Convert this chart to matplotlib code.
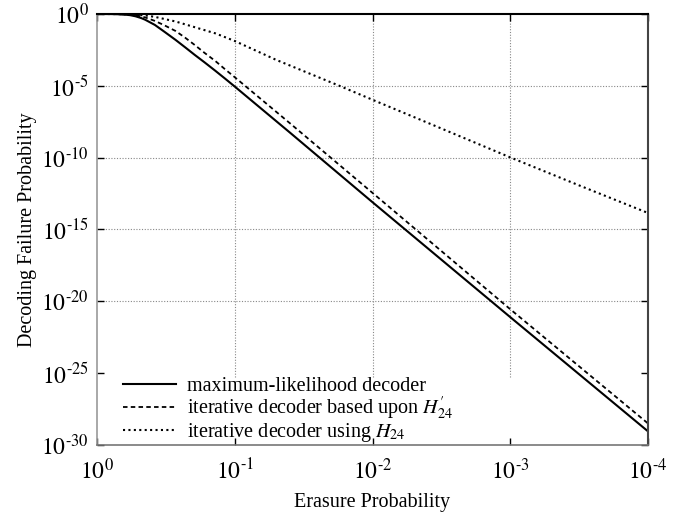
import matplotlib
matplotlib.use('Agg')
import matplotlib.pyplot as plt
import numpy as np

plt.rcParams['font.family'] = ['Liberation Serif', 'DejaVu Serif']
plt.rcParams['mathtext.fontset'] = 'stix'

# valeurs (exposants base 10)
ml_lx = [0, -0.1, -0.15, -0.2, -0.24, -0.28, -0.32, -0.35, -0.42, -0.49, -0.57, -0.64, -0.71, -0.78, -0.86, -0.93, -1.0, -1.4, -2.0, -3.0, -4.0]
ml_ly = [0, -0.003, -0.015, -0.04, -0.08, -0.16, -0.28, -0.4, -0.76, -1.24, -1.8, -2.32, -2.85, -3.36, -3.96, -4.5, -5.05, -8.25, -13.1, -21.1, -29.05]

it2_lx = [0, -0.1, -0.15, -0.2, -0.24, -0.28, -0.32, -0.35, -0.42, -0.49, -0.57, -0.64, -0.71, -0.78, -0.86, -0.93, -1.0, -1.4, -2.0, -3.0, -4.0]
it2_ly = [0, -0.002, -0.01, -0.03, -0.05, -0.09, -0.16, -0.24, -0.48, -0.79, -1.18, -1.65, -2.16, -2.7, -3.28, -3.85, -4.4, -7.6, -12.45, -20.55, -28.5]

it1_lx = [0, -0.1, -0.15, -0.2, -0.28, -0.35, -0.42, -0.57, -0.71, -0.86, -1.0, -1.3, -1.76, -2.0, -2.5, -3.0, -3.5, -4.0]
it1_ly = [0, -0.002, -0.008, -0.02, -0.05, -0.1, -0.2, -0.52, -0.92, -1.35, -1.88, -3.19, -5.0, -5.97, -7.97, -9.98, -11.93, -13.85]

labels = ['maximum-likelihood decoder',
          r"iterative decoder based upon $H^{\prime}_{24}$",
          r'iterative decoder using $H_{24}$']

xticks = [1, 1e-1, 1e-2, 1e-3, 1e-4]
xticklabels = [r'$10^{0}$', r'$10^{\text{-}1}$', r'$10^{\text{-}2}$', r'$10^{\text{-}3}$', r'$10^{\text{-}4}$']
yticks = [1, 1e-5, 1e-10, 1e-15, 1e-20, 1e-25, 1e-30]
yticklabels = [r'$10^{0}$', r'$10^{\text{-}5}$', r'$10^{\text{-}10}$', r'$10^{\text{-}15}$',
               r'$10^{\text{-}20}$', r'$10^{\text{-}25}$', r'$10^{\text{-}30}$']

fig = plt.figure(figsize=(6.9, 5.16), dpi=100)
ax = fig.add_axes([97/690, 1-445/516, 551/690, 431/516])

ax.plot(10**np.array(ml_lx), 10**np.array(ml_ly), color='black', lw=1.5, ls='-', label=labels[0])
ax.plot(10**np.array(it2_lx), 10**np.array(it2_ly), color='black', lw=1.3, ls=(0, (2.5, 1.8)), label=labels[1])
ax.plot(10**np.array(it1_lx), 10**np.array(it1_ly), color='black', lw=1.5, ls=(0, (1, 1.6)), label=labels[2])

ax.set_xscale('log')
ax.set_yscale('log')
ax.set_xlim(1, 1e-4)
ax.set_ylim(1e-30, 1)

# grille à la main (pas de ligne sous la légende)
for xv in xticks[1:-1]:
    ax.axvline(xv, ymin=0.158, ymax=1, color='#888888', lw=0.8, ls=(0, (1, 1.5)), zorder=0.5)
for yv in yticks[1:-2]:
    ax.axhline(yv, color='#888888', lw=0.8, ls=(0, (1, 1.5)), zorder=0.5)

ax.set_xticks(xticks)
ax.set_xticklabels(xticklabels)
ax.set_yticks(yticks)
ax.set_yticklabels(yticklabels)
ax.minorticks_off()
ax.tick_params(axis='both', which='major', direction='in', length=5, width=1,
               top=True, right=True, labelsize=17)
ax.tick_params(axis='x', pad=10)
ax.tick_params(axis='y', pad=6)

ax.spines['top'].set_color('black')
ax.spines['top'].set_linewidth(1.5)
ax.spines['right'].set_color('#444444')
ax.spines['right'].set_linewidth(1.5)
ax.spines['left'].set_color('#999999')
ax.spines['left'].set_linewidth(1.2)
ax.spines['bottom'].set_color('#777777')
ax.spines['bottom'].set_linewidth(1.2)

ax.set_xlabel('Erasure Probability', fontsize=14.5, labelpad=6)
ax.set_ylabel('Decoding Failure Probability', fontsize=14.5, labelpad=3)

ax.legend(loc='lower left', bbox_to_anchor=(0.044, -0.002), frameon=False, fontsize=14.5,
          handlelength=2.6, handletextpad=0.55, labelspacing=-0.07, borderpad=0.1,
          borderaxespad=0)

fig.savefig('out.png', dpi=100)
